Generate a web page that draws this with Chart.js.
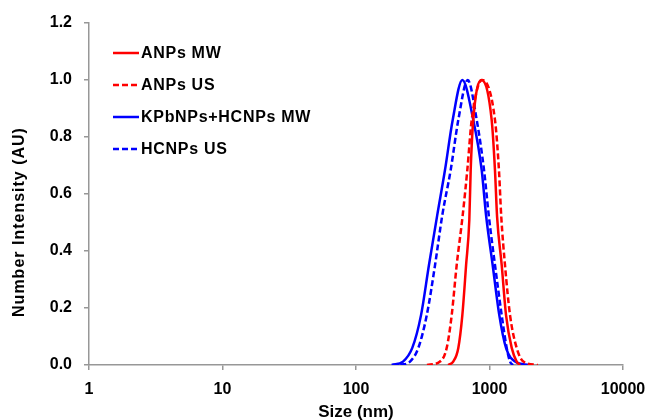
<!DOCTYPE html>
<html>
<head>
<meta charset="utf-8">
<title>Number Intensity vs Size</title>
<script src="https://cdn.jsdelivr.net/npm/chart.js@4.4.1/dist/chart.umd.min.js"></script>
<style>
    html, body { margin: 0; padding: 0; background: #fff; }
    canvas { display: block; }
</style>
</head>
<body>
<canvas id="grafico" width="649" height="420"></canvas>
<script>
//tamaños en nm y la intensidad normalizada de cada curva
const sizeAnpMw = [490, 535, 584, 626, 668, 706, 723, 756, 870, 1038, 1099, 1140, 1234, 1330, 1467, 1598, 1692];
const intAnpMw  = [0, 0.012, 0.06, 0.175, 0.351, 0.509, 0.684, 0.86, 1.0, 0.86, 0.684, 0.52, 0.351, 0.175, 0.06, 0.012, 0];

const sizeAnpUs = [340, 426, 478, 521, 568, 628, 682, 736, 880, 1099, 1177, 1225, 1306, 1425, 1598, 1792, 2300];
const intAnpUs  = [0, 0.012, 0.06, 0.175, 0.351, 0.52, 0.684, 0.86, 1.0, 0.86, 0.684, 0.52, 0.351, 0.175, 0.06, 0.012, 0];

const sizeKpbMw = [185, 225, 264, 307, 352, 406, 464, 530, 626, 756, 874, 942, 1056, 1184, 1330, 1553, 1980];
const intKpbMw  = [0, 0.012, 0.06, 0.175, 0.351, 0.526, 0.684, 0.86, 1.0, 0.86, 0.684, 0.526, 0.351, 0.175, 0.06, 0.012, 0];

const sizeHcnUs = [215, 254, 293, 339, 391, 443, 512, 584, 687, 802, 910, 990, 1099, 1234, 1345, 1425, 1500];
const intHcnUs  = [0, 0.012, 0.06, 0.175, 0.351, 0.526, 0.684, 0.86, 1.0, 0.86, 0.684, 0.52, 0.351, 0.175, 0.06, 0.012, 0];

const nombres = ['ANPs MW', 'ANPs US', 'KPbNPs+HCNPs MW', 'HCNPs US'];
const xTicks = [1, 10, 100, 1000, 10000];
const yMax = 1.2;
const yPaso = 0.2;

const fuente = '"Liberation Sans", Arial, sans-serif';
const gris = '#979797';

//junta los arrays x/y en puntos para chart.js
function puntos(xs, ys) {
    return xs.map((x, i) => ({ x: x, y: ys[i] }));
}

function serie(nombre, xs, ys, color, dash) {
    return {
        label: nombre,
        data: puntos(xs, ys),
        borderColor: color,
        borderWidth: 2.5,
        borderDash: dash,
        pointRadius: 0,
        fill: false,
        cubicInterpolationMode: 'monotone'
    };
}

//leyenda dentro del area y titulo del eje y
const leyendaPlugin = {
    id: 'leyendaInterna',
    afterDraw(chart) {
        const ctx = chart.ctx;
        const area = chart.chartArea;
        ctx.save();
        ctx.font = 'bold 16px ' + fuente;
        ctx.letterSpacing = '0.7px';
        ctx.textBaseline = 'middle';
        chart.data.datasets.forEach((ds, i) => {
            const y = area.top + 30 + i * 32;
            const x0 = area.left + 24;
            ctx.strokeStyle = ds.borderColor;
            ctx.lineWidth = ds.borderWidth;
            ctx.setLineDash(ds.borderDash || []);
            ctx.beginPath();
            ctx.moveTo(x0, y);
            ctx.lineTo(x0 + 26, y);
            ctx.stroke();
            ctx.setLineDash([]);
            ctx.fillStyle = '#000';
            ctx.fillText(ds.label, x0 + 28, y + 1);
        });

        ctx.translate(20, (area.top + area.bottom) / 2 + 28);
        ctx.rotate(-Math.PI / 2);
        ctx.textAlign = 'center';
        ctx.letterSpacing = '1px';
        ctx.fillStyle = '#000';
        ctx.fillText('Number Intensity (AU)', 0, 0);
        ctx.restore();
    }
};

const canvasGrafico = document.getElementById('grafico');
const dataGrafico = {
    datasets: [
        serie(nombres[0], sizeAnpMw, intAnpMw, '#ff0000', []),
        serie(nombres[1], sizeAnpUs, intAnpUs, '#ff0000', [6, 3]),
        serie(nombres[2], sizeKpbMw, intKpbMw, '#0000ff', []),
        serie(nombres[3], sizeHcnUs, intHcnUs, '#0000ff', [6, 3])
    ]
};

const lineChart = new Chart(canvasGrafico, {
    type: 'line',
    data: dataGrafico,
    plugins: [leyendaPlugin],
    options: {
        responsive: false,
        animation: false,
        layout: { padding: { left: 0, right: 26, top: 23, bottom: 0 } },
        plugins: {
            legend: { display: false },
            tooltip: { enabled: false }
        },
        scales: {
            x: {
                type: 'logarithmic',
                min: 1,
                max: 10000,
                afterBuildTicks: (scale) => {
                    scale.ticks = xTicks.map((v) => ({ value: v }));
                },
                afterFit: (scale) => {
                    scale.height = 55;
                    //el ultimo label cabe en el padding del layout
                    scale.paddingRight = 0;
                    scale.paddingLeft = 0;
                },
                ticks: {
                    autoSkip: false,
                    maxRotation: 0,
                    padding: 10,
                    color: '#000',
                    font: { family: fuente, size: 16, weight: 'bold' },
                    callback: (v) => String(v)
                },
                grid: { drawOnChartArea: false, drawTicks: true, tickLength: 5, color: gris, lineWidth: 1.5 },
                border: { display: true, color: gris, width: 1.5 },
                title: {
                    display: true,
                    text: 'Size (nm)',
                    color: '#000',
                    padding: { top: 0, bottom: -1 },
                    font: { family: fuente, size: 17, weight: 'bold', lineHeight: 1 }
                }
            },
            y: {
                min: 0,
                max: yMax,
                afterFit: (scale) => { scale.width = 89; },
                ticks: {
                    stepSize: yPaso,
                    padding: 12,
                    color: '#000',
                    font: { family: fuente, size: 16, weight: 'bold' },
                    callback: (v) => v.toFixed(1)
                },
                grid: { drawOnChartArea: false, drawTicks: true, tickLength: 5, color: gris, lineWidth: 1.5 },
                border: { display: true, color: gris, width: 1.5 }
            }
        }
    }
});
</script>
</body>
</html>
